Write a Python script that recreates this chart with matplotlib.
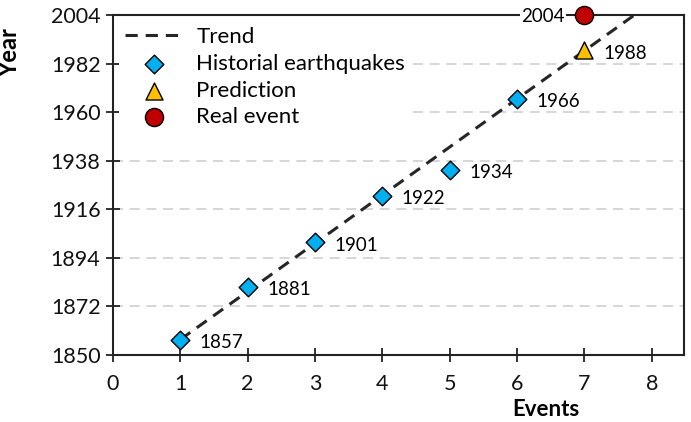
import numpy as np
import matplotlib
matplotlib.use("Agg")
import matplotlib.pyplot as plt

plt.rcParams['font.family'] = ['Lato', 'DejaVu Sans']

#historical earthquakes, prediction and the real event
events = [1, 2, 3, 4, 5, 6]
years = [1857, 1881, 1901, 1922, 1934, 1966]
pred_event = [7]
pred_year = [1988]
real_event = [7]
real_year = [2004]

#trend line
trend_start = 1857
trend_rate = 21.8

yticks = [1850, 1872, 1894, 1916, 1938, 1960, 1982, 2004]
xticks = [0, 1, 2, 3, 4, 5, 6, 7, 8]

fig = plt.figure(figsize=(6.91, 4.22), dpi=100)
ax = fig.add_axes([0.1635, 0.1588, 0.8265, 0.8057])

tx = np.linspace(1, 8.5, 50)
ty = trend_start + trend_rate * (tx - 1)
ax.plot(tx, ty, ls=(0, (4, 2.6)), color='#262626', lw=2.2, label='Trend', zorder=2)

ax.scatter(events, years, marker='D', s=90, color='#00B0F0', edgecolor='black',
           lw=1, label='Historial earthquakes', zorder=3)
ax.scatter(pred_event, pred_year, marker='^', s=150, color='#FFC000', edgecolor='black',
           lw=1, label='Prediction', zorder=3)
ax.scatter(real_event, real_year, marker='o', s=170, color='#C00000', edgecolor='black',
           lw=1, label='Real event', zorder=4, clip_on=False)

for x, y in zip(events + pred_event, years + pred_year):
    ax.annotate(str(y), (x, y), xytext=(14, -2), textcoords='offset points',
                fontsize=13.5, va='center', ha='left')
ax.annotate(str(real_year[0]), (real_event[0], real_year[0]), xytext=(-14, -1),
            textcoords='offset points', fontsize=13.5, va='center', ha='right',
            bbox=dict(facecolor='white', edgecolor='none', pad=1), zorder=5)

ax.set_xlim(0, 8.48)
ax.set_ylim(1850, 2004)
ax.set_xticks(xticks)
ax.set_yticks(yticks)
ax.tick_params(direction='inout', length=10, width=1.2, labelsize=15.5, colors='#111111')
ax.tick_params(axis='x', pad=9)
ax.tick_params(axis='y', pad=4)
ax.grid(axis='y', ls=(0, (6, 4)), color='#d0d0d0', lw=1.2)
ax.set_axisbelow(True)
for s in ax.spines.values():
    s.set_linewidth(1.5)
    s.set_color('#222222')

ax.set_xlabel('Events', fontsize=16, fontweight='bold')
ax.xaxis.set_label_coords(0.758, -0.13)
ax.set_ylabel('Year', fontsize=17, fontweight='bold')
ax.yaxis.set_label_coords(-0.16, 0.888)

leg = ax.legend(loc='upper left', fontsize=16, frameon=True, framealpha=1,
                edgecolor='none', borderaxespad=0.25, handlelength=2.6,
                labelspacing=0.3, handletextpad=0.6, borderpad=0.3)
leg.get_frame().set_facecolor('white')

fig.savefig('out.png', dpi=100)
